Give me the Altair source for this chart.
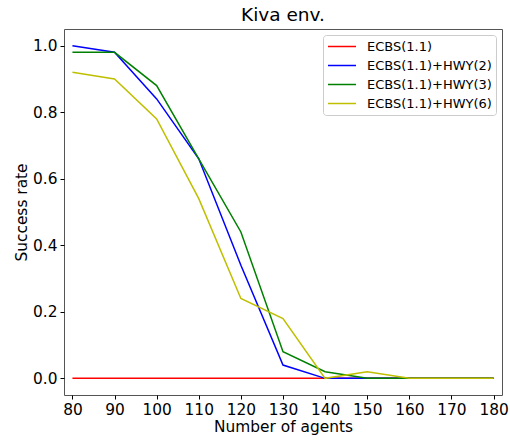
import altair as alt
import pandas as pd

agents = [80, 90, 100, 110, 120, 130, 140, 150, 160, 170, 180]
series_names = ["ECBS(1.1)", "ECBS(1.1)+HWY(2)", "ECBS(1.1)+HWY(3)", "ECBS(1.1)+HWY(6)"]
ecbs = [0, 0, 0, 0, 0, 0, 0, 0, 0, 0, 0]
hwy2 = [1.0, 0.98, 0.84, 0.66, 0.34, 0.04, 0.0, 0.0, 0.0, 0.0, 0.0]
hwy3 = [0.98, 0.98, 0.88, 0.66, 0.44, 0.08, 0.02, 0.0, 0.0, 0.0, 0.0]
hwy6 = [0.92, 0.90, 0.78, 0.54, 0.24, 0.18, 0.0, 0.02, 0.0, 0.0, 0.0]
colors = ["#ff0000", "#0000ff", "#008000", "#bfbf00"]

rows = []
for k, (name, vals) in enumerate(zip(series_names, [ecbs, hwy2, hwy3, hwy6])):
    for a, v in zip(agents, vals):
        rows.append({"agents": a, "rate": v, "series": name, "ord": k})
df = pd.DataFrame(rows)

FONT = "DejaVu Sans"

chart = alt.Chart(df).mark_line(strokeWidth=1.5).encode(
    x=alt.X("agents:Q",
            scale=alt.Scale(domain=[78, 182], nice=False, zero=False),
            axis=alt.Axis(values=agents, title="Number of agents", format="d")),
    y=alt.Y("rate:Q",
            scale=alt.Scale(domain=[-0.05, 1.05], nice=False, zero=False),
            axis=alt.Axis(values=[0, 0.2, 0.4, 0.6, 0.8, 1.0], format=".1f",
                          title="Success rate")),
    color=alt.Color("series:N",
                    scale=alt.Scale(domain=series_names, range=colors),
                    legend=alt.Legend(title=None, orient="none", legendX=259, legendY=6,
                                      symbolType="stroke", symbolSize=784,
                                      symbolStrokeWidth=1.5, labelFontSize=13,
                                      labelFont=FONT, labelOffset=10, rowPadding=4,
                                      clipHeight=15, padding=4,
                                      strokeColor="#cccccc", fillColor="white",
                                      cornerRadius=3, labelColor="#000000")),
    order=alt.Order("ord:Q"),
).properties(
    width=438, height=366,
    title=alt.TitleParams("Kiva env.", fontSize=18.5, font=FONT, fontWeight="normal",
                          color="#000000", offset=5),
    autosize=alt.AutoSizeParams(type="none"),
    padding={"left": 64, "top": 29, "right": 8, "bottom": 47},
).configure_view(
    stroke="#555555", strokeWidth=1
).configure_axis(
    grid=False, domain=False, labelFont=FONT, titleFont=FONT, labelFontSize=15.4,
    titleFontSize=15.4, titleFontWeight="normal", labelColor="#000000", titleColor="#000000",
    tickColor="#000000", tickSize=4, labelPadding=3
).configure_axisX(titlePadding=2).configure_axisY(titlePadding=3)

chart.save("out.html", embed_options={"renderer": "svg", "actions": False})
